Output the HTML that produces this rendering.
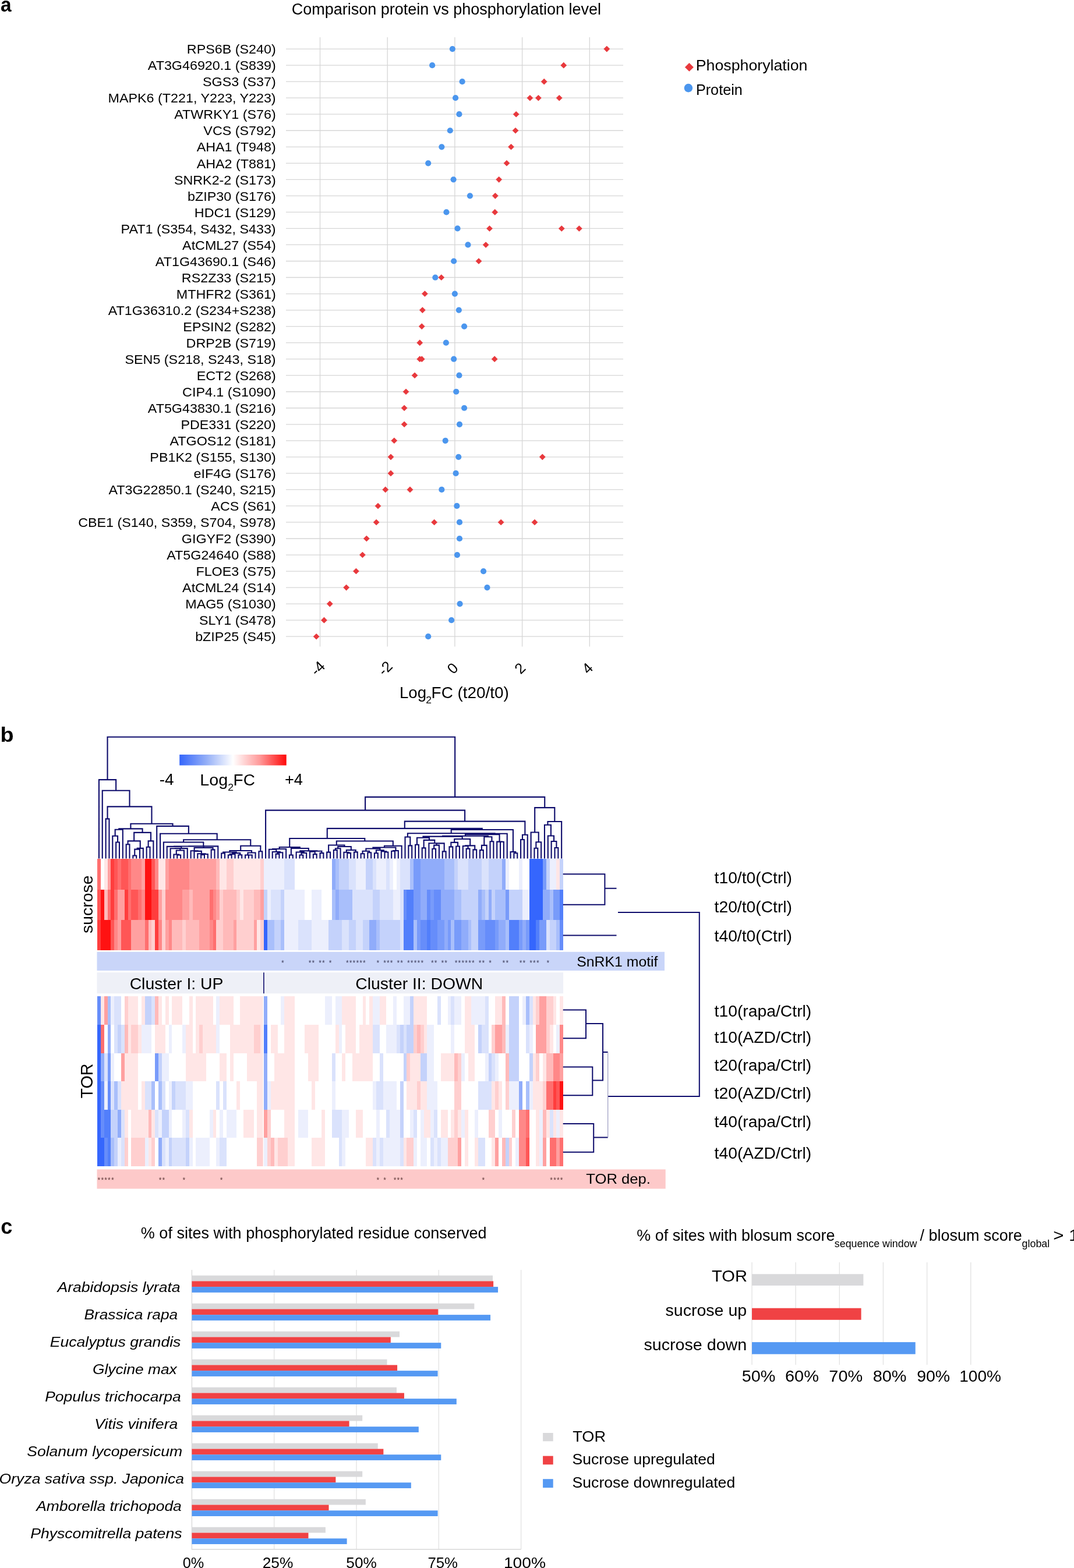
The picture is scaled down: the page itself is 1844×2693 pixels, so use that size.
<!DOCTYPE html>
<html><head><meta charset="utf-8"><title>Figure</title>
<style>html,body{margin:0;padding:0;background:#fff;} svg{display:block;}</style></head>
<body><svg width="1844" height="2693" viewBox="0 0 1844 2693" font-family="'Liberation Sans', Arial, sans-serif" fill="#000">
<rect width="1844" height="2693" fill="#fff"/>
<text transform="translate(0.97 20) scale(0.9275 1)" font-size="36" font-weight="bold">a</text>
<text transform="translate(0.38 1273.7) scale(1.0497 1)" font-size="36" font-weight="bold">b</text>
<text x="1.2" y="2118.6" font-size="36" font-weight="bold">c</text>
<text x="500.7" y="25.3" font-size="27">Comparison protein vs phosphorylation level</text>
<path d="M549.5 64V1110.5 M665.2 64V1110.5 M780.9 64V1110.5 M896.6 64V1110.5 M1012.3 64V1110.5 M491 84.1H1070 M491 112.13H1070 M491 140.16H1070 M491 168.19H1070 M491 196.22H1070 M491 224.25H1070 M491 252.28H1070 M491 280.31H1070 M491 308.34H1070 M491 336.37H1070 M491 364.4H1070 M491 392.43H1070 M491 420.46H1070 M491 448.49H1070 M491 476.52H1070 M491 504.55H1070 M491 532.58H1070 M491 560.61H1070 M491 588.64H1070 M491 616.67H1070 M491 644.7H1070 M491 672.73H1070 M491 700.76H1070 M491 728.79H1070 M491 756.82H1070 M491 784.85H1070 M491 812.88H1070 M491 840.91H1070 M491 868.94H1070 M491 896.97H1070 M491 925H1070 M491 953.03H1070 M491 981.06H1070 M491 1009.09H1070 M491 1037.12H1070 M491 1065.15H1070 M491 1093.18H1070" stroke="#d6d6d6" stroke-width="1.3" fill="none"/>
<text transform="translate(320.82 92.3) scale(1.0600 1)" font-size="22">RPS6B (S240)</text>
<text transform="translate(253.83 120.33) scale(1.0600 1)" font-size="22">AT3G46920.1 (S839)</text>
<text transform="translate(348.06 148.36) scale(1.0600 1)" font-size="22">SGS3 (S37)</text>
<text transform="translate(185.56 176.39) scale(1.0600 1)" font-size="22">MAPK6 (T221, Y223, Y223)</text>
<text transform="translate(299.3 204.42) scale(1.0600 1)" font-size="22">ATWRKY1 (S76)</text>
<text transform="translate(349.33 232.45) scale(1.0600 1)" font-size="22">VCS (S792)</text>
<text transform="translate(337.67 260.48) scale(1.0600 1)" font-size="22">AHA1 (T948)</text>
<text transform="translate(337.67 288.51) scale(1.0600 1)" font-size="22">AHA2 (T881)</text>
<text transform="translate(298.88 316.54) scale(1.0600 1)" font-size="22">SNRK2-2 (S173)</text>
<text transform="translate(322.09 344.57) scale(1.0600 1)" font-size="22">bZIP30 (S176)</text>
<text transform="translate(333.86 372.6) scale(1.0600 1)" font-size="22">HDC1 (S129)</text>
<text transform="translate(207.61 400.63) scale(1.0600 1)" font-size="22">PAT1 (S354, S432, S433)</text>
<text transform="translate(313.08 428.66) scale(1.0600 1)" font-size="22">AtCML27 (S54)</text>
<text transform="translate(266.87 456.69) scale(1.0600 1)" font-size="22">AT1G43690.1 (S46)</text>
<text transform="translate(311.81 484.72) scale(1.0600 1)" font-size="22">RS2Z33 (S215)</text>
<text transform="translate(302.8 512.75) scale(1.0600 1)" font-size="22">MTHFR2 (S361)</text>
<text transform="translate(185.78 540.78) scale(1.0600 1)" font-size="22">AT1G36310.2 (S234+S238)</text>
<text transform="translate(314.35 568.81) scale(1.0600 1)" font-size="22">EPSIN2 (S282)</text>
<text transform="translate(319.55 596.84) scale(1.0600 1)" font-size="22">DRP2B (S719)</text>
<text transform="translate(214.5 624.87) scale(1.0600 1)" font-size="22">SEN5 (S218, S243, S18)</text>
<text transform="translate(337.67 652.9) scale(1.0600 1)" font-size="22">ECT2 (S268)</text>
<text transform="translate(313.08 680.93) scale(1.0600 1)" font-size="22">CIP4.1 (S1090)</text>
<text transform="translate(253.83 708.96) scale(1.0600 1)" font-size="22">AT5G43830.1 (S216)</text>
<text transform="translate(310.43 736.99) scale(1.0600 1)" font-size="22">PDE331 (S220)</text>
<text transform="translate(291.46 765.02) scale(1.0600 1)" font-size="22">ATGOS12 (S181)</text>
<text transform="translate(257.33 793.05) scale(1.0600 1)" font-size="22">PB1K2 (S155, S130)</text>
<text transform="translate(332.48 821.08) scale(1.0600 1)" font-size="22">eIF4G (S176)</text>
<text transform="translate(186.41 849.11) scale(1.0600 1)" font-size="22">AT3G22850.1 (S240, S215)</text>
<text transform="translate(362.37 877.14) scale(1.0600 1)" font-size="22">ACS (S61)</text>
<text transform="translate(134.15 905.17) scale(1.0600 1)" font-size="22">CBE1 (S140, S359, S704, S978)</text>
<text transform="translate(311.81 933.2) scale(1.0600 1)" font-size="22">GIGYF2 (S390)</text>
<text transform="translate(286.26 961.23) scale(1.0600 1)" font-size="22">AT5G24640 (S88)</text>
<text transform="translate(336.4 989.26) scale(1.0600 1)" font-size="22">FLOE3 (S75)</text>
<text transform="translate(313.08 1017.29) scale(1.0600 1)" font-size="22">AtCML24 (S14)</text>
<text transform="translate(318.28 1045.32) scale(1.0600 1)" font-size="22">MAG5 (S1030)</text>
<text transform="translate(342.02 1073.35) scale(1.0600 1)" font-size="22">SLY1 (S478)</text>
<text transform="translate(335.13 1101.38) scale(1.0600 1)" font-size="22">bZIP25 (S45)</text>
<circle cx="776.85" cy="84.1" r="5.1" fill="#4b96ee"/><circle cx="742.14" cy="112.13" r="5.1" fill="#4b96ee"/><circle cx="793.63" cy="140.16" r="5.1" fill="#4b96ee"/><circle cx="782.06" cy="168.19" r="5.1" fill="#4b96ee"/><circle cx="788.42" cy="196.22" r="5.1" fill="#4b96ee"/><circle cx="772.8" cy="224.25" r="5.1" fill="#4b96ee"/><circle cx="758.34" cy="252.28" r="5.1" fill="#4b96ee"/><circle cx="735.2" cy="280.31" r="5.1" fill="#4b96ee"/><circle cx="778.59" cy="308.34" r="5.1" fill="#4b96ee"/><circle cx="806.93" cy="336.37" r="5.1" fill="#4b96ee"/><circle cx="766.44" cy="364.4" r="5.1" fill="#4b96ee"/><circle cx="785.53" cy="392.43" r="5.1" fill="#4b96ee"/><circle cx="803.46" cy="420.46" r="5.1" fill="#4b96ee"/><circle cx="779.16" cy="448.49" r="5.1" fill="#4b96ee"/><circle cx="747.35" cy="476.52" r="5.1" fill="#4b96ee"/><circle cx="780.9" cy="504.55" r="5.1" fill="#4b96ee"/><circle cx="787.84" cy="532.58" r="5.1" fill="#4b96ee"/><circle cx="797.1" cy="560.61" r="5.1" fill="#4b96ee"/><circle cx="765.86" cy="588.64" r="5.1" fill="#4b96ee"/><circle cx="779.16" cy="616.67" r="5.1" fill="#4b96ee"/><circle cx="788.42" cy="644.7" r="5.1" fill="#4b96ee"/><circle cx="783.21" cy="672.73" r="5.1" fill="#4b96ee"/><circle cx="797.1" cy="700.76" r="5.1" fill="#4b96ee"/><circle cx="789" cy="728.79" r="5.1" fill="#4b96ee"/><circle cx="764.7" cy="756.82" r="5.1" fill="#4b96ee"/><circle cx="787.26" cy="784.85" r="5.1" fill="#4b96ee"/><circle cx="782.64" cy="812.88" r="5.1" fill="#4b96ee"/><circle cx="758.34" cy="840.91" r="5.1" fill="#4b96ee"/><circle cx="784.37" cy="868.94" r="5.1" fill="#4b96ee"/><circle cx="789" cy="896.97" r="5.1" fill="#4b96ee"/><circle cx="789" cy="925" r="5.1" fill="#4b96ee"/><circle cx="784.95" cy="953.03" r="5.1" fill="#4b96ee"/><circle cx="830.07" cy="981.06" r="5.1" fill="#4b96ee"/><circle cx="836.44" cy="1009.09" r="5.1" fill="#4b96ee"/><circle cx="789.58" cy="1037.12" r="5.1" fill="#4b96ee"/><circle cx="775.12" cy="1065.15" r="5.1" fill="#4b96ee"/><circle cx="735.2" cy="1093.18" r="5.1" fill="#4b96ee"/><path d="M1041.8 78.8L1047.2 84.1L1041.8 89.4L1036.4 84.1Z" fill="#e8393d"/><path d="M967.76 106.83L973.16 112.13L967.76 117.43L962.36 112.13Z" fill="#e8393d"/><path d="M934.2 134.86L939.6 140.16L934.2 145.46L928.8 140.16Z" fill="#e8393d"/><path d="M909.91 162.89L915.31 168.19L909.91 173.49L904.51 168.19Z" fill="#e8393d"/><path d="M924.37 162.89L929.77 168.19L924.37 173.49L918.97 168.19Z" fill="#e8393d"/><path d="M960.24 162.89L965.63 168.19L960.24 173.49L954.84 168.19Z" fill="#e8393d"/><path d="M886.19 190.92L891.59 196.22L886.19 201.52L880.79 196.22Z" fill="#e8393d"/><path d="M885.03 218.95L890.43 224.25L885.03 229.55L879.63 224.25Z" fill="#e8393d"/><path d="M877.51 246.98L882.91 252.28L877.51 257.58L872.11 252.28Z" fill="#e8393d"/><path d="M869.99 275.01L875.39 280.31L869.99 285.61L864.59 280.31Z" fill="#e8393d"/><path d="M856.68 303.04L862.08 308.34L856.68 313.64L851.28 308.34Z" fill="#e8393d"/><path d="M850.32 331.07L855.72 336.37L850.32 341.67L844.92 336.37Z" fill="#e8393d"/><path d="M849.74 359.1L855.14 364.4L849.74 369.7L844.34 364.4Z" fill="#e8393d"/><path d="M840.49 387.13L845.89 392.43L840.49 397.73L835.09 392.43Z" fill="#e8393d"/><path d="M964.28 387.13L969.68 392.43L964.28 397.73L958.88 392.43Z" fill="#e8393d"/><path d="M994.37 387.13L999.77 392.43L994.37 397.73L988.97 392.43Z" fill="#e8393d"/><path d="M834.12 415.16L839.52 420.46L834.12 425.76L828.72 420.46Z" fill="#e8393d"/><path d="M821.97 443.19L827.37 448.49L821.97 453.79L816.57 448.49Z" fill="#e8393d"/><path d="M757.76 471.22L763.16 476.52L757.76 481.82L752.36 476.52Z" fill="#e8393d"/><path d="M729.41 499.25L734.81 504.55L729.41 509.85L724.01 504.55Z" fill="#e8393d"/><path d="M725.36 527.28L730.76 532.58L725.36 537.88L719.96 532.58Z" fill="#e8393d"/><path d="M724.21 555.31L729.61 560.61L724.21 565.91L718.81 560.61Z" fill="#e8393d"/><path d="M720.74 583.34L726.14 588.64L720.74 593.94L715.34 588.64Z" fill="#e8393d"/><path d="M720.74 611.37L726.14 616.67L720.74 621.97L715.34 616.67Z" fill="#e8393d"/><path d="M724.21 611.37L729.61 616.67L724.21 621.97L718.81 616.67Z" fill="#e8393d"/><path d="M849.16 611.37L854.56 616.67L849.16 621.97L843.76 616.67Z" fill="#e8393d"/><path d="M712.06 639.4L717.46 644.7L712.06 650L706.66 644.7Z" fill="#e8393d"/><path d="M697.02 667.43L702.42 672.73L697.02 678.03L691.62 672.73Z" fill="#e8393d"/><path d="M694.12 695.46L699.52 700.76L694.12 706.06L688.73 700.76Z" fill="#e8393d"/><path d="M694.12 723.49L699.52 728.79L694.12 734.09L688.73 728.79Z" fill="#e8393d"/><path d="M676.77 751.52L682.17 756.82L676.77 762.12L671.37 756.82Z" fill="#e8393d"/><path d="M670.99 779.55L676.38 784.85L670.99 790.15L665.59 784.85Z" fill="#e8393d"/><path d="M931.31 779.55L936.71 784.85L931.31 790.15L925.91 784.85Z" fill="#e8393d"/><path d="M670.99 807.58L676.38 812.88L670.99 818.18L665.59 812.88Z" fill="#e8393d"/><path d="M661.73 835.61L667.13 840.91L661.73 846.21L656.33 840.91Z" fill="#e8393d"/><path d="M703.96 835.61L709.36 840.91L703.96 846.21L698.56 840.91Z" fill="#e8393d"/><path d="M649 863.64L654.4 868.94L649 874.24L643.6 868.94Z" fill="#e8393d"/><path d="M646.11 891.67L651.51 896.97L646.11 902.27L640.71 896.97Z" fill="#e8393d"/><path d="M745.61 891.67L751.01 896.97L745.61 902.27L740.21 896.97Z" fill="#e8393d"/><path d="M860.15 891.67L865.55 896.97L860.15 902.27L854.75 896.97Z" fill="#e8393d"/><path d="M918 891.67L923.4 896.97L918 902.27L912.6 896.97Z" fill="#e8393d"/><path d="M629.33 919.7L634.73 925L629.33 930.3L623.93 925Z" fill="#e8393d"/><path d="M622.39 947.73L627.79 953.03L622.39 958.33L616.99 953.03Z" fill="#e8393d"/><path d="M611.4 975.76L616.8 981.06L611.4 986.36L606 981.06Z" fill="#e8393d"/><path d="M594.62 1003.79L600.02 1009.09L594.62 1014.39L589.22 1009.09Z" fill="#e8393d"/><path d="M566.28 1031.82L571.68 1037.12L566.28 1042.42L560.88 1037.12Z" fill="#e8393d"/><path d="M556.44 1059.85L561.84 1065.15L556.44 1070.45L551.04 1065.15Z" fill="#e8393d"/><path d="M543.14 1087.88L548.54 1093.18L543.14 1098.48L537.74 1093.18Z" fill="#e8393d"/>
<text transform="translate(545.5 1147.5) rotate(-45)" font-size="25.5" text-anchor="middle" dy="9">-4</text>
<text transform="translate(661.2 1147.5) rotate(-45)" font-size="25.5" text-anchor="middle" dy="9">-2</text>
<text transform="translate(776.9 1147.5) rotate(-45)" font-size="25.5" text-anchor="middle" dy="9">0</text>
<text transform="translate(892.6 1147.5) rotate(-45)" font-size="25.5" text-anchor="middle" dy="9">2</text>
<text transform="translate(1008.3 1147.5) rotate(-45)" font-size="25.5" text-anchor="middle" dy="9">4</text>
<text transform="translate(685.93 1198.7) scale(0.9859 1)" font-size="28">Log</text>
<text transform="translate(731.26 1208) scale(1.0526 1)" font-size="16.6">2</text>
<text transform="translate(740.61 1198.7) scale(0.9969 1)" font-size="28">FC (t20/t0)</text>
<path d="M1183.4 108L1190.9 115.4L1183.4 122.8L1175.9 115.4Z" fill="#e8393d"/>
<circle cx="1181.9" cy="151.1" r="7.3" fill="#4b96ee"/>
<text transform="translate(1194.78 120.6) scale(1.0568 1)" font-size="25.3">Phosphorylation</text>
<text transform="translate(1194.91 162.9) scale(0.9961 1)" font-size="25.3">Protein</text><g shape-rendering="crispEdges">
<rect x="167" y="1475.2" width="5.85" height="52.6" fill="#ff6f6f"/><rect x="178.68" y="1475.2" width="5.85" height="52.6" fill="#ffe6e6"/><rect x="184.52" y="1475.2" width="5.85" height="52.6" fill="#ffa0a0"/><rect x="190.36" y="1475.2" width="5.85" height="52.6" fill="#ff3d3d"/><rect x="196.2" y="1475.2" width="5.85" height="52.6" fill="#ff5656"/><rect x="202.04" y="1475.2" width="5.85" height="52.6" fill="#ff6f6f"/><rect x="207.88" y="1475.2" width="11.69" height="52.6" fill="#ff5656"/><rect x="219.56" y="1475.2" width="5.85" height="52.6" fill="#ff6f6f"/><rect x="225.4" y="1475.2" width="17.53" height="52.6" fill="#ff8888"/><rect x="242.92" y="1475.2" width="5.85" height="52.6" fill="#ffa0a0"/><rect x="248.76" y="1475.2" width="11.69" height="52.6" fill="#ff1212"/><rect x="260.44" y="1475.2" width="5.85" height="52.6" fill="#ff5656"/><rect x="266.28" y="1475.2" width="5.85" height="52.6" fill="#ff8888"/><rect x="272.12" y="1475.2" width="11.69" height="52.6" fill="#ffe6e6"/><rect x="283.8" y="1475.2" width="5.85" height="52.6" fill="#ffa0a0"/><rect x="289.64" y="1475.2" width="35.05" height="52.6" fill="#ff8888"/><rect x="324.68" y="1475.2" width="46.73" height="52.6" fill="#ffa0a0"/><rect x="371.4" y="1475.2" width="5.85" height="52.6" fill="#ffbaba"/><rect x="377.24" y="1475.2" width="11.69" height="52.6" fill="#ffe6e6"/><rect x="388.92" y="1475.2" width="11.69" height="52.6" fill="#ffcfcf"/><rect x="400.6" y="1475.2" width="46.73" height="52.6" fill="#ffe6e6"/><rect x="447.32" y="1475.2" width="5.85" height="52.6" fill="#ffcfcf"/><rect x="453.16" y="1475.2" width="35.05" height="52.6" fill="#eceffd"/><rect x="488.2" y="1475.2" width="17.53" height="52.6" fill="#dae2fc"/><rect x="569.96" y="1475.2" width="5.85" height="52.6" fill="#90acfa"/><rect x="575.8" y="1475.2" width="5.85" height="52.6" fill="#a9bffb"/><rect x="581.64" y="1475.2" width="17.53" height="52.6" fill="#c4d2fb"/><rect x="599.16" y="1475.2" width="11.69" height="52.6" fill="#dae2fc"/><rect x="610.84" y="1475.2" width="17.53" height="52.6" fill="#eceffd"/><rect x="628.36" y="1475.2" width="11.69" height="52.6" fill="#c4d2fb"/><rect x="640.04" y="1475.2" width="5.85" height="52.6" fill="#dae2fc"/><rect x="645.88" y="1475.2" width="17.53" height="52.6" fill="#eceffd"/><rect x="663.4" y="1475.2" width="5.85" height="52.6" fill="#dae2fc"/><rect x="669.24" y="1475.2" width="5.85" height="52.6" fill="#eceffd"/><rect x="680.92" y="1475.2" width="5.85" height="52.6" fill="#eceffd"/><rect x="686.76" y="1475.2" width="17.53" height="52.6" fill="#dae2fc"/><rect x="704.28" y="1475.2" width="5.85" height="52.6" fill="#a9bffb"/><rect x="710.12" y="1475.2" width="11.69" height="52.6" fill="#789bfa"/><rect x="721.8" y="1475.2" width="40.89" height="52.6" fill="#90acfa"/><rect x="762.68" y="1475.2" width="17.53" height="52.6" fill="#a9bffb"/><rect x="780.2" y="1475.2" width="5.85" height="52.6" fill="#c4d2fb"/><rect x="786.04" y="1475.2" width="17.53" height="52.6" fill="#dae2fc"/><rect x="803.56" y="1475.2" width="23.37" height="52.6" fill="#c4d2fb"/><rect x="826.92" y="1475.2" width="11.69" height="52.6" fill="#dae2fc"/><rect x="838.6" y="1475.2" width="23.37" height="52.6" fill="#c4d2fb"/><rect x="861.96" y="1475.2" width="5.85" height="52.6" fill="#90acfa"/><rect x="867.8" y="1475.2" width="5.85" height="52.6" fill="#eceffd"/><rect x="891.16" y="1475.2" width="5.85" height="52.6" fill="#eceffd"/><rect x="908.68" y="1475.2" width="23.37" height="52.6" fill="#3566fd"/><rect x="932.04" y="1475.2" width="5.85" height="52.6" fill="#789bfa"/><rect x="937.88" y="1475.2" width="5.85" height="52.6" fill="#c4d2fb"/><rect x="943.72" y="1475.2" width="11.69" height="52.6" fill="#eceffd"/><rect x="955.4" y="1475.2" width="5.85" height="52.6" fill="#ffe6e6"/><rect x="961.24" y="1475.2" width="5.85" height="52.6" fill="#c4d2fb"/><rect x="167" y="1527.8" width="5.85" height="52.5" fill="#ff5656"/><rect x="172.84" y="1527.8" width="5.85" height="52.5" fill="#ff1212"/><rect x="178.68" y="1527.8" width="5.85" height="52.5" fill="#ffbaba"/><rect x="184.52" y="1527.8" width="5.85" height="52.5" fill="#ff6f6f"/><rect x="190.36" y="1527.8" width="5.85" height="52.5" fill="#ff3d3d"/><rect x="196.2" y="1527.8" width="5.85" height="52.5" fill="#ff6f6f"/><rect x="202.04" y="1527.8" width="11.69" height="52.5" fill="#ffa0a0"/><rect x="213.72" y="1527.8" width="5.85" height="52.5" fill="#ff3d3d"/><rect x="219.56" y="1527.8" width="5.85" height="52.5" fill="#ff6f6f"/><rect x="225.4" y="1527.8" width="11.69" height="52.5" fill="#ff5656"/><rect x="237.08" y="1527.8" width="5.85" height="52.5" fill="#ff6f6f"/><rect x="242.92" y="1527.8" width="5.85" height="52.5" fill="#ff8888"/><rect x="248.76" y="1527.8" width="11.69" height="52.5" fill="#ff1212"/><rect x="260.44" y="1527.8" width="11.69" height="52.5" fill="#ff3d3d"/><rect x="272.12" y="1527.8" width="5.85" height="52.5" fill="#ffa0a0"/><rect x="277.96" y="1527.8" width="5.85" height="52.5" fill="#ffcfcf"/><rect x="283.8" y="1527.8" width="29.21" height="52.5" fill="#ff8888"/><rect x="313" y="1527.8" width="11.69" height="52.5" fill="#ffa0a0"/><rect x="324.68" y="1527.8" width="5.85" height="52.5" fill="#ffbaba"/><rect x="330.52" y="1527.8" width="29.21" height="52.5" fill="#ffa0a0"/><rect x="359.72" y="1527.8" width="5.85" height="52.5" fill="#ff6f6f"/><rect x="365.56" y="1527.8" width="5.85" height="52.5" fill="#ff8888"/><rect x="371.4" y="1527.8" width="5.85" height="52.5" fill="#ffa0a0"/><rect x="377.24" y="1527.8" width="5.85" height="52.5" fill="#ffcfcf"/><rect x="383.08" y="1527.8" width="23.37" height="52.5" fill="#ffbaba"/><rect x="406.44" y="1527.8" width="5.85" height="52.5" fill="#ffcfcf"/><rect x="412.28" y="1527.8" width="5.85" height="52.5" fill="#ffe6e6"/><rect x="418.12" y="1527.8" width="17.53" height="52.5" fill="#ffcfcf"/><rect x="435.64" y="1527.8" width="11.69" height="52.5" fill="#ffbaba"/><rect x="447.32" y="1527.8" width="5.85" height="52.5" fill="#ffa0a0"/><rect x="453.16" y="1527.8" width="5.85" height="52.5" fill="#c4d2fb"/><rect x="459" y="1527.8" width="5.85" height="52.5" fill="#eceffd"/><rect x="464.84" y="1527.8" width="17.53" height="52.5" fill="#dae2fc"/><rect x="482.36" y="1527.8" width="5.85" height="52.5" fill="#c4d2fb"/><rect x="488.2" y="1527.8" width="35.05" height="52.5" fill="#eceffd"/><rect x="534.92" y="1527.8" width="17.53" height="52.5" fill="#eceffd"/><rect x="569.96" y="1527.8" width="5.85" height="52.5" fill="#a9bffb"/><rect x="575.8" y="1527.8" width="5.85" height="52.5" fill="#90acfa"/><rect x="581.64" y="1527.8" width="23.37" height="52.5" fill="#a9bffb"/><rect x="605" y="1527.8" width="35.05" height="52.5" fill="#dae2fc"/><rect x="640.04" y="1527.8" width="11.69" height="52.5" fill="#c4d2fb"/><rect x="651.72" y="1527.8" width="23.37" height="52.5" fill="#dae2fc"/><rect x="675.08" y="1527.8" width="11.69" height="52.5" fill="#eceffd"/><rect x="686.76" y="1527.8" width="5.85" height="52.5" fill="#dae2fc"/><rect x="692.6" y="1527.8" width="5.85" height="52.5" fill="#668dfa"/><rect x="698.44" y="1527.8" width="11.69" height="52.5" fill="#527ffb"/><rect x="710.12" y="1527.8" width="11.69" height="52.5" fill="#789bfa"/><rect x="721.8" y="1527.8" width="11.69" height="52.5" fill="#90acfa"/><rect x="733.48" y="1527.8" width="5.85" height="52.5" fill="#668dfa"/><rect x="739.32" y="1527.8" width="5.85" height="52.5" fill="#789bfa"/><rect x="745.16" y="1527.8" width="11.69" height="52.5" fill="#668dfa"/><rect x="756.84" y="1527.8" width="23.37" height="52.5" fill="#90acfa"/><rect x="780.2" y="1527.8" width="11.69" height="52.5" fill="#a9bffb"/><rect x="791.88" y="1527.8" width="29.21" height="52.5" fill="#c4d2fb"/><rect x="821.08" y="1527.8" width="5.85" height="52.5" fill="#90acfa"/><rect x="826.92" y="1527.8" width="5.85" height="52.5" fill="#a9bffb"/><rect x="832.76" y="1527.8" width="5.85" height="52.5" fill="#c4d2fb"/><rect x="838.6" y="1527.8" width="5.85" height="52.5" fill="#90acfa"/><rect x="844.44" y="1527.8" width="5.85" height="52.5" fill="#c4d2fb"/><rect x="850.28" y="1527.8" width="17.53" height="52.5" fill="#a9bffb"/><rect x="867.8" y="1527.8" width="5.85" height="52.5" fill="#789bfa"/><rect x="873.64" y="1527.8" width="23.37" height="52.5" fill="#c4d2fb"/><rect x="897" y="1527.8" width="11.69" height="52.5" fill="#eceffd"/><rect x="908.68" y="1527.8" width="23.37" height="52.5" fill="#3566fd"/><rect x="932.04" y="1527.8" width="11.69" height="52.5" fill="#90acfa"/><rect x="943.72" y="1527.8" width="5.85" height="52.5" fill="#a9bffb"/><rect x="949.56" y="1527.8" width="11.69" height="52.5" fill="#789bfa"/><rect x="961.24" y="1527.8" width="5.85" height="52.5" fill="#527ffb"/><rect x="167" y="1580.3" width="5.85" height="51.7" fill="#ff3d3d"/><rect x="172.84" y="1580.3" width="17.53" height="51.7" fill="#ff1212"/><rect x="190.36" y="1580.3" width="5.85" height="51.7" fill="#ff5656"/><rect x="196.2" y="1580.3" width="5.85" height="51.7" fill="#ff8888"/><rect x="202.04" y="1580.3" width="5.85" height="51.7" fill="#ffa0a0"/><rect x="207.88" y="1580.3" width="17.53" height="51.7" fill="#ff5656"/><rect x="225.4" y="1580.3" width="23.37" height="51.7" fill="#ffa0a0"/><rect x="248.76" y="1580.3" width="5.85" height="51.7" fill="#ff6f6f"/><rect x="254.6" y="1580.3" width="5.85" height="51.7" fill="#ffbaba"/><rect x="260.44" y="1580.3" width="5.85" height="51.7" fill="#ffcfcf"/><rect x="266.28" y="1580.3" width="5.85" height="51.7" fill="#ff3d3d"/><rect x="272.12" y="1580.3" width="5.85" height="51.7" fill="#ff8888"/><rect x="277.96" y="1580.3" width="5.85" height="51.7" fill="#ffcfcf"/><rect x="283.8" y="1580.3" width="5.85" height="51.7" fill="#ffa0a0"/><rect x="289.64" y="1580.3" width="5.85" height="51.7" fill="#ff8888"/><rect x="295.48" y="1580.3" width="17.53" height="51.7" fill="#ffbaba"/><rect x="313" y="1580.3" width="5.85" height="51.7" fill="#ffcfcf"/><rect x="318.84" y="1580.3" width="23.37" height="51.7" fill="#ffbaba"/><rect x="342.2" y="1580.3" width="17.53" height="51.7" fill="#ffa0a0"/><rect x="359.72" y="1580.3" width="5.85" height="51.7" fill="#ff8888"/><rect x="365.56" y="1580.3" width="5.85" height="51.7" fill="#ff6f6f"/><rect x="371.4" y="1580.3" width="11.69" height="51.7" fill="#ffcfcf"/><rect x="383.08" y="1580.3" width="17.53" height="51.7" fill="#ffbaba"/><rect x="400.6" y="1580.3" width="5.85" height="51.7" fill="#ffa0a0"/><rect x="406.44" y="1580.3" width="29.21" height="51.7" fill="#ffcfcf"/><rect x="435.64" y="1580.3" width="5.85" height="51.7" fill="#ffa0a0"/><rect x="441.48" y="1580.3" width="5.85" height="51.7" fill="#ffe6e6"/><rect x="447.32" y="1580.3" width="5.85" height="51.7" fill="#ffcfcf"/><rect x="453.16" y="1580.3" width="5.85" height="51.7" fill="#3566fd"/><rect x="459" y="1580.3" width="11.69" height="51.7" fill="#a9bffb"/><rect x="470.68" y="1580.3" width="11.69" height="51.7" fill="#c4d2fb"/><rect x="482.36" y="1580.3" width="5.85" height="51.7" fill="#a9bffb"/><rect x="488.2" y="1580.3" width="23.37" height="51.7" fill="#eceffd"/><rect x="511.56" y="1580.3" width="23.37" height="51.7" fill="#dae2fc"/><rect x="534.92" y="1580.3" width="29.21" height="51.7" fill="#eceffd"/><rect x="564.12" y="1580.3" width="23.37" height="51.7" fill="#c4d2fb"/><rect x="587.48" y="1580.3" width="11.69" height="51.7" fill="#dae2fc"/><rect x="599.16" y="1580.3" width="11.69" height="51.7" fill="#c4d2fb"/><rect x="610.84" y="1580.3" width="11.69" height="51.7" fill="#dae2fc"/><rect x="622.52" y="1580.3" width="11.69" height="51.7" fill="#c4d2fb"/><rect x="634.2" y="1580.3" width="11.69" height="51.7" fill="#90acfa"/><rect x="645.88" y="1580.3" width="5.85" height="51.7" fill="#a9bffb"/><rect x="651.72" y="1580.3" width="35.05" height="51.7" fill="#c4d2fb"/><rect x="686.76" y="1580.3" width="5.85" height="51.7" fill="#dae2fc"/><rect x="692.6" y="1580.3" width="17.53" height="51.7" fill="#527ffb"/><rect x="710.12" y="1580.3" width="5.85" height="51.7" fill="#a9bffb"/><rect x="715.96" y="1580.3" width="5.85" height="51.7" fill="#789bfa"/><rect x="721.8" y="1580.3" width="11.69" height="51.7" fill="#668dfa"/><rect x="733.48" y="1580.3" width="5.85" height="51.7" fill="#527ffb"/><rect x="739.32" y="1580.3" width="11.69" height="51.7" fill="#668dfa"/><rect x="751" y="1580.3" width="11.69" height="51.7" fill="#789bfa"/><rect x="762.68" y="1580.3" width="5.85" height="51.7" fill="#90acfa"/><rect x="768.52" y="1580.3" width="5.85" height="51.7" fill="#789bfa"/><rect x="774.36" y="1580.3" width="5.85" height="51.7" fill="#a9bffb"/><rect x="780.2" y="1580.3" width="11.69" height="51.7" fill="#789bfa"/><rect x="791.88" y="1580.3" width="11.69" height="51.7" fill="#90acfa"/><rect x="803.56" y="1580.3" width="5.85" height="51.7" fill="#a9bffb"/><rect x="809.4" y="1580.3" width="11.69" height="51.7" fill="#c4d2fb"/><rect x="821.08" y="1580.3" width="11.69" height="51.7" fill="#789bfa"/><rect x="832.76" y="1580.3" width="17.53" height="51.7" fill="#668dfa"/><rect x="850.28" y="1580.3" width="5.85" height="51.7" fill="#789bfa"/><rect x="856.12" y="1580.3" width="11.69" height="51.7" fill="#90acfa"/><rect x="867.8" y="1580.3" width="5.85" height="51.7" fill="#a9bffb"/><rect x="873.64" y="1580.3" width="17.53" height="51.7" fill="#527ffb"/><rect x="891.16" y="1580.3" width="5.85" height="51.7" fill="#789bfa"/><rect x="897" y="1580.3" width="5.85" height="51.7" fill="#90acfa"/><rect x="902.84" y="1580.3" width="5.85" height="51.7" fill="#789bfa"/><rect x="908.68" y="1580.3" width="11.69" height="51.7" fill="#3566fd"/><rect x="920.36" y="1580.3" width="5.85" height="51.7" fill="#527ffb"/><rect x="926.2" y="1580.3" width="11.69" height="51.7" fill="#789bfa"/><rect x="937.88" y="1580.3" width="5.85" height="51.7" fill="#dae2fc"/><rect x="943.72" y="1580.3" width="11.69" height="51.7" fill="#c4d2fb"/><rect x="955.4" y="1580.3" width="5.85" height="51.7" fill="#a9bffb"/><rect x="961.24" y="1580.3" width="5.85" height="51.7" fill="#668dfa"/>
<rect x="167" y="1711.3" width="5.85" height="48.62" fill="#668dfa"/><rect x="172.84" y="1711.3" width="5.85" height="48.62" fill="#ffe6e6"/><rect x="178.68" y="1711.3" width="5.85" height="48.62" fill="#ffa0a0"/><rect x="184.52" y="1711.3" width="5.85" height="48.62" fill="#a9bffb"/><rect x="190.36" y="1711.3" width="5.85" height="48.62" fill="#eceffd"/><rect x="196.2" y="1711.3" width="11.69" height="48.62" fill="#dae2fc"/><rect x="213.72" y="1711.3" width="5.85" height="48.62" fill="#ffcfcf"/><rect x="219.56" y="1711.3" width="17.53" height="48.62" fill="#ffe6e6"/><rect x="242.92" y="1711.3" width="5.85" height="48.62" fill="#ffe6e6"/><rect x="248.76" y="1711.3" width="11.69" height="48.62" fill="#c4d2fb"/><rect x="260.44" y="1711.3" width="5.85" height="48.62" fill="#dae2fc"/><rect x="266.28" y="1711.3" width="5.85" height="48.62" fill="#ffbaba"/><rect x="272.12" y="1711.3" width="5.85" height="48.62" fill="#ffe6e6"/><rect x="283.8" y="1711.3" width="5.85" height="48.62" fill="#ffe6e6"/><rect x="295.48" y="1711.3" width="17.53" height="48.62" fill="#ffe6e6"/><rect x="324.68" y="1711.3" width="5.85" height="48.62" fill="#ffe6e6"/><rect x="336.36" y="1711.3" width="29.21" height="48.62" fill="#ffe6e6"/><rect x="371.4" y="1711.3" width="5.85" height="48.62" fill="#eceffd"/><rect x="377.24" y="1711.3" width="23.37" height="48.62" fill="#ffe6e6"/><rect x="412.28" y="1711.3" width="40.89" height="48.62" fill="#ffe6e6"/><rect x="453.16" y="1711.3" width="5.85" height="48.62" fill="#90acfa"/><rect x="482.36" y="1711.3" width="5.85" height="48.62" fill="#eceffd"/><rect x="488.2" y="1711.3" width="17.53" height="48.62" fill="#ffe6e6"/><rect x="558.28" y="1711.3" width="11.69" height="48.62" fill="#eceffd"/><rect x="575.8" y="1711.3" width="11.69" height="48.62" fill="#eceffd"/><rect x="587.48" y="1711.3" width="23.37" height="48.62" fill="#ffe6e6"/><rect x="622.52" y="1711.3" width="5.85" height="48.62" fill="#ffe6e6"/><rect x="634.2" y="1711.3" width="5.85" height="48.62" fill="#ffe6e6"/><rect x="640.04" y="1711.3" width="11.69" height="48.62" fill="#eceffd"/><rect x="651.72" y="1711.3" width="11.69" height="48.62" fill="#ffe6e6"/><rect x="675.08" y="1711.3" width="5.85" height="48.62" fill="#eceffd"/><rect x="692.6" y="1711.3" width="11.69" height="48.62" fill="#eceffd"/><rect x="704.28" y="1711.3" width="5.85" height="48.62" fill="#c4d2fb"/><rect x="710.12" y="1711.3" width="23.37" height="48.62" fill="#ffe6e6"/><rect x="751" y="1711.3" width="5.85" height="48.62" fill="#dae2fc"/><rect x="768.52" y="1711.3" width="5.85" height="48.62" fill="#eceffd"/><rect x="774.36" y="1711.3" width="5.85" height="48.62" fill="#dae2fc"/><rect x="780.2" y="1711.3" width="11.69" height="48.62" fill="#eceffd"/><rect x="797.72" y="1711.3" width="11.69" height="48.62" fill="#ffe6e6"/><rect x="809.4" y="1711.3" width="23.37" height="48.62" fill="#eceffd"/><rect x="832.76" y="1711.3" width="5.85" height="48.62" fill="#dae2fc"/><rect x="850.28" y="1711.3" width="11.69" height="48.62" fill="#ffe6e6"/><rect x="861.96" y="1711.3" width="5.85" height="48.62" fill="#ffbaba"/><rect x="873.64" y="1711.3" width="17.53" height="48.62" fill="#c4d2fb"/><rect x="897" y="1711.3" width="5.85" height="48.62" fill="#eceffd"/><rect x="902.84" y="1711.3" width="5.85" height="48.62" fill="#a9bffb"/><rect x="908.68" y="1711.3" width="5.85" height="48.62" fill="#dae2fc"/><rect x="914.52" y="1711.3" width="5.85" height="48.62" fill="#ffe6e6"/><rect x="920.36" y="1711.3" width="5.85" height="48.62" fill="#ffcfcf"/><rect x="926.2" y="1711.3" width="11.69" height="48.62" fill="#ffa0a0"/><rect x="937.88" y="1711.3" width="11.69" height="48.62" fill="#ffcfcf"/><rect x="949.56" y="1711.3" width="5.85" height="48.62" fill="#ffe6e6"/><rect x="961.24" y="1711.3" width="5.85" height="48.62" fill="#ffe6e6"/><rect x="167" y="1759.92" width="5.85" height="48.62" fill="#3566fd"/><rect x="172.84" y="1759.92" width="5.85" height="48.62" fill="#ff6f6f"/><rect x="184.52" y="1759.92" width="5.85" height="48.62" fill="#90acfa"/><rect x="196.2" y="1759.92" width="5.85" height="48.62" fill="#dae2fc"/><rect x="202.04" y="1759.92" width="5.85" height="48.62" fill="#c4d2fb"/><rect x="207.88" y="1759.92" width="5.85" height="48.62" fill="#dae2fc"/><rect x="213.72" y="1759.92" width="5.85" height="48.62" fill="#ffbaba"/><rect x="219.56" y="1759.92" width="5.85" height="48.62" fill="#ffe6e6"/><rect x="225.4" y="1759.92" width="11.69" height="48.62" fill="#ffcfcf"/><rect x="237.08" y="1759.92" width="5.85" height="48.62" fill="#ffe6e6"/><rect x="242.92" y="1759.92" width="17.53" height="48.62" fill="#eceffd"/><rect x="266.28" y="1759.92" width="17.53" height="48.62" fill="#ffe6e6"/><rect x="289.64" y="1759.92" width="5.85" height="48.62" fill="#eceffd"/><rect x="313" y="1759.92" width="5.85" height="48.62" fill="#eceffd"/><rect x="318.84" y="1759.92" width="11.69" height="48.62" fill="#ffe6e6"/><rect x="336.36" y="1759.92" width="5.85" height="48.62" fill="#ffe6e6"/><rect x="342.2" y="1759.92" width="5.85" height="48.62" fill="#ffcfcf"/><rect x="348.04" y="1759.92" width="23.37" height="48.62" fill="#ffe6e6"/><rect x="371.4" y="1759.92" width="5.85" height="48.62" fill="#eceffd"/><rect x="394.76" y="1759.92" width="40.89" height="48.62" fill="#ffe6e6"/><rect x="435.64" y="1759.92" width="11.69" height="48.62" fill="#ffcfcf"/><rect x="447.32" y="1759.92" width="5.85" height="48.62" fill="#ffe6e6"/><rect x="453.16" y="1759.92" width="5.85" height="48.62" fill="#527ffb"/><rect x="464.84" y="1759.92" width="11.69" height="48.62" fill="#ffe6e6"/><rect x="488.2" y="1759.92" width="17.53" height="48.62" fill="#ffe6e6"/><rect x="523.24" y="1759.92" width="23.37" height="48.62" fill="#ffe6e6"/><rect x="575.8" y="1759.92" width="5.85" height="48.62" fill="#ffe6e6"/><rect x="581.64" y="1759.92" width="5.85" height="48.62" fill="#eceffd"/><rect x="593.32" y="1759.92" width="17.53" height="48.62" fill="#ffe6e6"/><rect x="616.68" y="1759.92" width="23.37" height="48.62" fill="#ffe6e6"/><rect x="640.04" y="1759.92" width="11.69" height="48.62" fill="#dae2fc"/><rect x="663.4" y="1759.92" width="17.53" height="48.62" fill="#eceffd"/><rect x="680.92" y="1759.92" width="5.85" height="48.62" fill="#dae2fc"/><rect x="686.76" y="1759.92" width="5.85" height="48.62" fill="#c4d2fb"/><rect x="692.6" y="1759.92" width="5.85" height="48.62" fill="#dae2fc"/><rect x="698.44" y="1759.92" width="11.69" height="48.62" fill="#c4d2fb"/><rect x="710.12" y="1759.92" width="5.85" height="48.62" fill="#ffcfcf"/><rect x="715.96" y="1759.92" width="5.85" height="48.62" fill="#ffbaba"/><rect x="721.8" y="1759.92" width="5.85" height="48.62" fill="#ffcfcf"/><rect x="727.64" y="1759.92" width="5.85" height="48.62" fill="#ffe6e6"/><rect x="733.48" y="1759.92" width="11.69" height="48.62" fill="#eceffd"/><rect x="774.36" y="1759.92" width="5.85" height="48.62" fill="#eceffd"/><rect x="797.72" y="1759.92" width="17.53" height="48.62" fill="#ffe6e6"/><rect x="821.08" y="1759.92" width="5.85" height="48.62" fill="#c4d2fb"/><rect x="826.92" y="1759.92" width="11.69" height="48.62" fill="#dae2fc"/><rect x="844.44" y="1759.92" width="5.85" height="48.62" fill="#ffcfcf"/><rect x="850.28" y="1759.92" width="11.69" height="48.62" fill="#ffa0a0"/><rect x="861.96" y="1759.92" width="5.85" height="48.62" fill="#ffbaba"/><rect x="867.8" y="1759.92" width="5.85" height="48.62" fill="#eceffd"/><rect x="873.64" y="1759.92" width="17.53" height="48.62" fill="#c4d2fb"/><rect x="902.84" y="1759.92" width="5.85" height="48.62" fill="#dae2fc"/><rect x="908.68" y="1759.92" width="5.85" height="48.62" fill="#eceffd"/><rect x="920.36" y="1759.92" width="17.53" height="48.62" fill="#ffa0a0"/><rect x="937.88" y="1759.92" width="5.85" height="48.62" fill="#ffcfcf"/><rect x="943.72" y="1759.92" width="5.85" height="48.62" fill="#ffe6e6"/><rect x="955.4" y="1759.92" width="5.85" height="48.62" fill="#eceffd"/><rect x="961.24" y="1759.92" width="5.85" height="48.62" fill="#ff8888"/><rect x="167" y="1808.54" width="5.85" height="48.62" fill="#3566fd"/><rect x="172.84" y="1808.54" width="5.85" height="48.62" fill="#90acfa"/><rect x="178.68" y="1808.54" width="5.85" height="48.62" fill="#dae2fc"/><rect x="184.52" y="1808.54" width="5.85" height="48.62" fill="#789bfa"/><rect x="190.36" y="1808.54" width="5.85" height="48.62" fill="#eceffd"/><rect x="207.88" y="1808.54" width="5.85" height="48.62" fill="#ffa0a0"/><rect x="213.72" y="1808.54" width="23.37" height="48.62" fill="#ffe6e6"/><rect x="266.28" y="1808.54" width="5.85" height="48.62" fill="#789bfa"/><rect x="272.12" y="1808.54" width="5.85" height="48.62" fill="#c4d2fb"/><rect x="277.96" y="1808.54" width="11.69" height="48.62" fill="#eceffd"/><rect x="318.84" y="1808.54" width="35.05" height="48.62" fill="#ffe6e6"/><rect x="377.24" y="1808.54" width="11.69" height="48.62" fill="#ffe6e6"/><rect x="394.76" y="1808.54" width="5.85" height="48.62" fill="#ffe6e6"/><rect x="423.96" y="1808.54" width="29.21" height="48.62" fill="#ffe6e6"/><rect x="453.16" y="1808.54" width="5.85" height="48.62" fill="#90acfa"/><rect x="470.68" y="1808.54" width="35.05" height="48.62" fill="#ffe6e6"/><rect x="529.08" y="1808.54" width="17.53" height="48.62" fill="#ffe6e6"/><rect x="569.96" y="1808.54" width="5.85" height="48.62" fill="#dae2fc"/><rect x="587.48" y="1808.54" width="5.85" height="48.62" fill="#ffe6e6"/><rect x="605" y="1808.54" width="35.05" height="48.62" fill="#ffe6e6"/><rect x="651.72" y="1808.54" width="5.85" height="48.62" fill="#dae2fc"/><rect x="692.6" y="1808.54" width="5.85" height="48.62" fill="#c4d2fb"/><rect x="698.44" y="1808.54" width="5.85" height="48.62" fill="#ffcfcf"/><rect x="704.28" y="1808.54" width="17.53" height="48.62" fill="#ffe6e6"/><rect x="721.8" y="1808.54" width="11.69" height="48.62" fill="#c4d2fb"/><rect x="733.48" y="1808.54" width="11.69" height="48.62" fill="#eceffd"/><rect x="756.84" y="1808.54" width="23.37" height="48.62" fill="#ffe6e6"/><rect x="780.2" y="1808.54" width="5.85" height="48.62" fill="#ffbaba"/><rect x="786.04" y="1808.54" width="5.85" height="48.62" fill="#ffcfcf"/><rect x="791.88" y="1808.54" width="5.85" height="48.62" fill="#eceffd"/><rect x="803.56" y="1808.54" width="11.69" height="48.62" fill="#ffe6e6"/><rect x="832.76" y="1808.54" width="5.85" height="48.62" fill="#eceffd"/><rect x="838.6" y="1808.54" width="5.85" height="48.62" fill="#c4d2fb"/><rect x="844.44" y="1808.54" width="5.85" height="48.62" fill="#dae2fc"/><rect x="850.28" y="1808.54" width="5.85" height="48.62" fill="#eceffd"/><rect x="867.8" y="1808.54" width="5.85" height="48.62" fill="#ffbaba"/><rect x="873.64" y="1808.54" width="17.53" height="48.62" fill="#c4d2fb"/><rect x="908.68" y="1808.54" width="5.85" height="48.62" fill="#c4d2fb"/><rect x="914.52" y="1808.54" width="5.85" height="48.62" fill="#ffe6e6"/><rect x="920.36" y="1808.54" width="5.85" height="48.62" fill="#ffcfcf"/><rect x="932.04" y="1808.54" width="5.85" height="48.62" fill="#ffe6e6"/><rect x="937.88" y="1808.54" width="11.69" height="48.62" fill="#ffbaba"/><rect x="949.56" y="1808.54" width="11.69" height="48.62" fill="#ff8888"/><rect x="961.24" y="1808.54" width="5.85" height="48.62" fill="#ffa0a0"/><rect x="167" y="1857.16" width="5.85" height="48.62" fill="#3566fd"/><rect x="172.84" y="1857.16" width="5.85" height="48.62" fill="#668dfa"/><rect x="178.68" y="1857.16" width="5.85" height="48.62" fill="#eceffd"/><rect x="184.52" y="1857.16" width="5.85" height="48.62" fill="#668dfa"/><rect x="190.36" y="1857.16" width="5.85" height="48.62" fill="#dae2fc"/><rect x="196.2" y="1857.16" width="5.85" height="48.62" fill="#a9bffb"/><rect x="202.04" y="1857.16" width="5.85" height="48.62" fill="#dae2fc"/><rect x="207.88" y="1857.16" width="29.21" height="48.62" fill="#ffe6e6"/><rect x="242.92" y="1857.16" width="5.85" height="48.62" fill="#ffe6e6"/><rect x="248.76" y="1857.16" width="11.69" height="48.62" fill="#dae2fc"/><rect x="260.44" y="1857.16" width="5.85" height="48.62" fill="#a9bffb"/><rect x="272.12" y="1857.16" width="5.85" height="48.62" fill="#a9bffb"/><rect x="277.96" y="1857.16" width="5.85" height="48.62" fill="#dae2fc"/><rect x="289.64" y="1857.16" width="5.85" height="48.62" fill="#eceffd"/><rect x="295.48" y="1857.16" width="5.85" height="48.62" fill="#c4d2fb"/><rect x="301.32" y="1857.16" width="17.53" height="48.62" fill="#dae2fc"/><rect x="318.84" y="1857.16" width="11.69" height="48.62" fill="#eceffd"/><rect x="371.4" y="1857.16" width="5.85" height="48.62" fill="#dae2fc"/><rect x="383.08" y="1857.16" width="5.85" height="48.62" fill="#dae2fc"/><rect x="406.44" y="1857.16" width="5.85" height="48.62" fill="#ffe6e6"/><rect x="441.48" y="1857.16" width="11.69" height="48.62" fill="#ffe6e6"/><rect x="453.16" y="1857.16" width="5.85" height="48.62" fill="#90acfa"/><rect x="459" y="1857.16" width="5.85" height="48.62" fill="#eceffd"/><rect x="464.84" y="1857.16" width="40.89" height="48.62" fill="#ffe6e6"/><rect x="534.92" y="1857.16" width="5.85" height="48.62" fill="#ffe6e6"/><rect x="569.96" y="1857.16" width="5.85" height="48.62" fill="#eceffd"/><rect x="640.04" y="1857.16" width="5.85" height="48.62" fill="#eceffd"/><rect x="645.88" y="1857.16" width="11.69" height="48.62" fill="#dae2fc"/><rect x="657.56" y="1857.16" width="23.37" height="48.62" fill="#eceffd"/><rect x="686.76" y="1857.16" width="5.85" height="48.62" fill="#c4d2fb"/><rect x="698.44" y="1857.16" width="17.53" height="48.62" fill="#ffe6e6"/><rect x="715.96" y="1857.16" width="5.85" height="48.62" fill="#ffcfcf"/><rect x="721.8" y="1857.16" width="11.69" height="48.62" fill="#ffe6e6"/><rect x="733.48" y="1857.16" width="17.53" height="48.62" fill="#eceffd"/><rect x="780.2" y="1857.16" width="11.69" height="48.62" fill="#ffcfcf"/><rect x="821.08" y="1857.16" width="23.37" height="48.62" fill="#dae2fc"/><rect x="844.44" y="1857.16" width="5.85" height="48.62" fill="#ffe6e6"/><rect x="850.28" y="1857.16" width="5.85" height="48.62" fill="#ffcfcf"/><rect x="856.12" y="1857.16" width="5.85" height="48.62" fill="#ffe6e6"/><rect x="867.8" y="1857.16" width="5.85" height="48.62" fill="#ffcfcf"/><rect x="873.64" y="1857.16" width="17.53" height="48.62" fill="#eceffd"/><rect x="891.16" y="1857.16" width="5.85" height="48.62" fill="#90acfa"/><rect x="902.84" y="1857.16" width="5.85" height="48.62" fill="#a9bffb"/><rect x="908.68" y="1857.16" width="5.85" height="48.62" fill="#eceffd"/><rect x="914.52" y="1857.16" width="17.53" height="48.62" fill="#ffe6e6"/><rect x="932.04" y="1857.16" width="5.85" height="48.62" fill="#ffcfcf"/><rect x="937.88" y="1857.16" width="11.69" height="48.62" fill="#ff6f6f"/><rect x="949.56" y="1857.16" width="5.85" height="48.62" fill="#ff3d3d"/><rect x="955.4" y="1857.16" width="5.85" height="48.62" fill="#ff5656"/><rect x="961.24" y="1857.16" width="5.85" height="48.62" fill="#ff1212"/><rect x="167" y="1905.78" width="5.85" height="48.62" fill="#3566fd"/><rect x="172.84" y="1905.78" width="5.85" height="48.62" fill="#668dfa"/><rect x="178.68" y="1905.78" width="11.69" height="48.62" fill="#527ffb"/><rect x="190.36" y="1905.78" width="11.69" height="48.62" fill="#c4d2fb"/><rect x="202.04" y="1905.78" width="5.85" height="48.62" fill="#90acfa"/><rect x="207.88" y="1905.78" width="5.85" height="48.62" fill="#dae2fc"/><rect x="213.72" y="1905.78" width="5.85" height="48.62" fill="#ffe6e6"/><rect x="225.4" y="1905.78" width="29.21" height="48.62" fill="#ffe6e6"/><rect x="254.6" y="1905.78" width="5.85" height="48.62" fill="#ffbaba"/><rect x="260.44" y="1905.78" width="5.85" height="48.62" fill="#ffe6e6"/><rect x="266.28" y="1905.78" width="5.85" height="48.62" fill="#dae2fc"/><rect x="272.12" y="1905.78" width="5.85" height="48.62" fill="#eceffd"/><rect x="277.96" y="1905.78" width="11.69" height="48.62" fill="#c4d2fb"/><rect x="289.64" y="1905.78" width="5.85" height="48.62" fill="#eceffd"/><rect x="313" y="1905.78" width="5.85" height="48.62" fill="#eceffd"/><rect x="318.84" y="1905.78" width="5.85" height="48.62" fill="#dae2fc"/><rect x="324.68" y="1905.78" width="5.85" height="48.62" fill="#ffe6e6"/><rect x="359.72" y="1905.78" width="5.85" height="48.62" fill="#eceffd"/><rect x="365.56" y="1905.78" width="5.85" height="48.62" fill="#ffe6e6"/><rect x="377.24" y="1905.78" width="5.85" height="48.62" fill="#eceffd"/><rect x="388.92" y="1905.78" width="17.53" height="48.62" fill="#eceffd"/><rect x="418.12" y="1905.78" width="17.53" height="48.62" fill="#ffe6e6"/><rect x="441.48" y="1905.78" width="11.69" height="48.62" fill="#ffe6e6"/><rect x="453.16" y="1905.78" width="5.85" height="48.62" fill="#ffa0a0"/><rect x="459" y="1905.78" width="5.85" height="48.62" fill="#ffcfcf"/><rect x="488.2" y="1905.78" width="17.53" height="48.62" fill="#ffe6e6"/><rect x="511.56" y="1905.78" width="17.53" height="48.62" fill="#eceffd"/><rect x="552.44" y="1905.78" width="5.85" height="48.62" fill="#ffe6e6"/><rect x="569.96" y="1905.78" width="17.53" height="48.62" fill="#dae2fc"/><rect x="587.48" y="1905.78" width="11.69" height="48.62" fill="#eceffd"/><rect x="610.84" y="1905.78" width="11.69" height="48.62" fill="#ffe6e6"/><rect x="645.88" y="1905.78" width="5.85" height="48.62" fill="#eceffd"/><rect x="663.4" y="1905.78" width="5.85" height="48.62" fill="#dae2fc"/><rect x="669.24" y="1905.78" width="17.53" height="48.62" fill="#eceffd"/><rect x="686.76" y="1905.78" width="5.85" height="48.62" fill="#c4d2fb"/><rect x="704.28" y="1905.78" width="5.85" height="48.62" fill="#eceffd"/><rect x="710.12" y="1905.78" width="5.85" height="48.62" fill="#dae2fc"/><rect x="721.8" y="1905.78" width="5.85" height="48.62" fill="#eceffd"/><rect x="727.64" y="1905.78" width="11.69" height="48.62" fill="#ffe6e6"/><rect x="739.32" y="1905.78" width="5.85" height="48.62" fill="#eceffd"/><rect x="745.16" y="1905.78" width="5.85" height="48.62" fill="#dae2fc"/><rect x="756.84" y="1905.78" width="11.69" height="48.62" fill="#ffe6e6"/><rect x="774.36" y="1905.78" width="5.85" height="48.62" fill="#ffe6e6"/><rect x="780.2" y="1905.78" width="5.85" height="48.62" fill="#ffcfcf"/><rect x="786.04" y="1905.78" width="5.85" height="48.62" fill="#ffe6e6"/><rect x="791.88" y="1905.78" width="5.85" height="48.62" fill="#eceffd"/><rect x="797.72" y="1905.78" width="5.85" height="48.62" fill="#ffe6e6"/><rect x="815.24" y="1905.78" width="5.85" height="48.62" fill="#eceffd"/><rect x="838.6" y="1905.78" width="11.69" height="48.62" fill="#ffcfcf"/><rect x="856.12" y="1905.78" width="5.85" height="48.62" fill="#eceffd"/><rect x="879.48" y="1905.78" width="5.85" height="48.62" fill="#ffcfcf"/><rect x="891.16" y="1905.78" width="11.69" height="48.62" fill="#ff8888"/><rect x="902.84" y="1905.78" width="5.85" height="48.62" fill="#ff6f6f"/><rect x="920.36" y="1905.78" width="5.85" height="48.62" fill="#ffe6e6"/><rect x="926.2" y="1905.78" width="5.85" height="48.62" fill="#eceffd"/><rect x="932.04" y="1905.78" width="5.85" height="48.62" fill="#ffbaba"/><rect x="937.88" y="1905.78" width="5.85" height="48.62" fill="#ffe6e6"/><rect x="943.72" y="1905.78" width="5.85" height="48.62" fill="#dae2fc"/><rect x="949.56" y="1905.78" width="5.85" height="48.62" fill="#ffe6e6"/><rect x="955.4" y="1905.78" width="5.85" height="48.62" fill="#eceffd"/><rect x="961.24" y="1905.78" width="5.85" height="48.62" fill="#ffe6e6"/><rect x="167" y="1954.4" width="11.69" height="48.62" fill="#3566fd"/><rect x="178.68" y="1954.4" width="5.85" height="48.62" fill="#668dfa"/><rect x="184.52" y="1954.4" width="5.85" height="48.62" fill="#527ffb"/><rect x="190.36" y="1954.4" width="5.85" height="48.62" fill="#a9bffb"/><rect x="196.2" y="1954.4" width="5.85" height="48.62" fill="#c4d2fb"/><rect x="202.04" y="1954.4" width="5.85" height="48.62" fill="#eceffd"/><rect x="207.88" y="1954.4" width="5.85" height="48.62" fill="#dae2fc"/><rect x="213.72" y="1954.4" width="5.85" height="48.62" fill="#ffcfcf"/><rect x="225.4" y="1954.4" width="23.37" height="48.62" fill="#ffcfcf"/><rect x="248.76" y="1954.4" width="5.85" height="48.62" fill="#eceffd"/><rect x="254.6" y="1954.4" width="5.85" height="48.62" fill="#ffe6e6"/><rect x="260.44" y="1954.4" width="5.85" height="48.62" fill="#ffcfcf"/><rect x="272.12" y="1954.4" width="5.85" height="48.62" fill="#90acfa"/><rect x="277.96" y="1954.4" width="5.85" height="48.62" fill="#dae2fc"/><rect x="283.8" y="1954.4" width="5.85" height="48.62" fill="#eceffd"/><rect x="289.64" y="1954.4" width="5.85" height="48.62" fill="#c4d2fb"/><rect x="295.48" y="1954.4" width="23.37" height="48.62" fill="#dae2fc"/><rect x="318.84" y="1954.4" width="5.85" height="48.62" fill="#c4d2fb"/><rect x="324.68" y="1954.4" width="5.85" height="48.62" fill="#eceffd"/><rect x="336.36" y="1954.4" width="23.37" height="48.62" fill="#eceffd"/><rect x="371.4" y="1954.4" width="5.85" height="48.62" fill="#eceffd"/><rect x="377.24" y="1954.4" width="11.69" height="48.62" fill="#dae2fc"/><rect x="441.48" y="1954.4" width="11.69" height="48.62" fill="#ffcfcf"/><rect x="453.16" y="1954.4" width="5.85" height="48.62" fill="#eceffd"/><rect x="459" y="1954.4" width="5.85" height="48.62" fill="#ffcfcf"/><rect x="464.84" y="1954.4" width="5.85" height="48.62" fill="#ffbaba"/><rect x="470.68" y="1954.4" width="5.85" height="48.62" fill="#ffe6e6"/><rect x="476.52" y="1954.4" width="17.53" height="48.62" fill="#ffcfcf"/><rect x="494.04" y="1954.4" width="11.69" height="48.62" fill="#ffe6e6"/><rect x="534.92" y="1954.4" width="23.37" height="48.62" fill="#ffe6e6"/><rect x="581.64" y="1954.4" width="5.85" height="48.62" fill="#dae2fc"/><rect x="587.48" y="1954.4" width="5.85" height="48.62" fill="#eceffd"/><rect x="628.36" y="1954.4" width="11.69" height="48.62" fill="#ffe6e6"/><rect x="640.04" y="1954.4" width="5.85" height="48.62" fill="#dae2fc"/><rect x="645.88" y="1954.4" width="5.85" height="48.62" fill="#eceffd"/><rect x="651.72" y="1954.4" width="5.85" height="48.62" fill="#dae2fc"/><rect x="657.56" y="1954.4" width="29.21" height="48.62" fill="#eceffd"/><rect x="686.76" y="1954.4" width="5.85" height="48.62" fill="#dae2fc"/><rect x="692.6" y="1954.4" width="5.85" height="48.62" fill="#ffe6e6"/><rect x="698.44" y="1954.4" width="11.69" height="48.62" fill="#ffcfcf"/><rect x="710.12" y="1954.4" width="5.85" height="48.62" fill="#eceffd"/><rect x="721.8" y="1954.4" width="11.69" height="48.62" fill="#eceffd"/><rect x="739.32" y="1954.4" width="5.85" height="48.62" fill="#dae2fc"/><rect x="745.16" y="1954.4" width="5.85" height="48.62" fill="#eceffd"/><rect x="751" y="1954.4" width="5.85" height="48.62" fill="#dae2fc"/><rect x="756.84" y="1954.4" width="11.69" height="48.62" fill="#eceffd"/><rect x="768.52" y="1954.4" width="17.53" height="48.62" fill="#ffcfcf"/><rect x="786.04" y="1954.4" width="5.85" height="48.62" fill="#ffa0a0"/><rect x="797.72" y="1954.4" width="5.85" height="48.62" fill="#ffe6e6"/><rect x="815.24" y="1954.4" width="5.85" height="48.62" fill="#ffe6e6"/><rect x="821.08" y="1954.4" width="11.69" height="48.62" fill="#dae2fc"/><rect x="844.44" y="1954.4" width="5.85" height="48.62" fill="#ffe6e6"/><rect x="850.28" y="1954.4" width="5.85" height="48.62" fill="#ffa0a0"/><rect x="861.96" y="1954.4" width="5.85" height="48.62" fill="#ffbaba"/><rect x="867.8" y="1954.4" width="5.85" height="48.62" fill="#c4d2fb"/><rect x="873.64" y="1954.4" width="5.85" height="48.62" fill="#ffcfcf"/><rect x="885.32" y="1954.4" width="5.85" height="48.62" fill="#eceffd"/><rect x="891.16" y="1954.4" width="11.69" height="48.62" fill="#ff8888"/><rect x="902.84" y="1954.4" width="5.85" height="48.62" fill="#ff5656"/><rect x="920.36" y="1954.4" width="5.85" height="48.62" fill="#ffe6e6"/><rect x="926.2" y="1954.4" width="5.85" height="48.62" fill="#eceffd"/><rect x="932.04" y="1954.4" width="5.85" height="48.62" fill="#ffa0a0"/><rect x="943.72" y="1954.4" width="11.69" height="48.62" fill="#ff6f6f"/><rect x="955.4" y="1954.4" width="5.85" height="48.62" fill="#ffa0a0"/><rect x="961.24" y="1954.4" width="5.85" height="48.62" fill="#ff6f6f"/>
</g>
<rect x="451.6" y="1711.3" width="1.4" height="291.72" fill="#ffffff"/>
<defs><linearGradient id="cb" x1="0" x2="1" y1="0" y2="0"><stop offset="0" stop-color="#3566fb"/><stop offset="0.25" stop-color="#93aef7"/><stop offset="0.5" stop-color="#ffffff"/><stop offset="0.75" stop-color="#ff9a9a"/><stop offset="1" stop-color="#ff0a0a"/></linearGradient></defs>
<rect x="308.2" y="1296" width="183.5" height="18.5" fill="url(#cb)"/>
<text transform="translate(273.76 1348.3) scale(1.0364 1)" font-size="27">-4</text>
<text transform="translate(343.36 1348.5) scale(1.0633 1)" font-size="27">Log</text>
<text transform="translate(391.16 1357.9) scale(1.0526 1)" font-size="16.6">2</text>
<text transform="translate(400.62 1348.5) scale(1.0366 1)" font-size="27">FC</text>
<text transform="translate(488.89 1348.3) scale(1.0070 1)" font-size="27">+4</text>
<path d="M184.52 1339.1V1265.8H781.16V1368.9M169.92 1474.5V1339.1H199.13V1357.7M175.76 1474.5V1357.7H222.49V1385.4M184.52 1406.4V1385.4H260.46V1414.7M181.6 1474.5V1406.4H187.44V1474.5M224.4 1423.4V1414.7H296.53V1418.9M204.23 1424.7V1423.4H244.56V1429.9M197.66 1435.8V1424.7H210.8V1474.5M193.28 1474.5V1435.8H202.04V1446.5M199.12 1474.5V1446.5H204.96V1474.5M230.15 1444.4V1429.9H258.98V1444.4M219.56 1450.3V1444.4H240.73V1456.9M216.64 1474.5V1450.3H222.48V1474.5M235.62 1458.6V1456.9H245.84V1474.5M231.24 1469.5V1458.6H240V1474.5M228.32 1474.5V1469.5H234.16V1474.5M254.6 1454.8V1444.4H263.36V1474.5M251.68 1474.5V1454.8H257.52V1474.5M269.2 1474.5V1418.9H323.86V1431.7M275.04 1474.5V1431.7H372.68V1442.3M315.1 1446.5V1442.3H430.26V1452.8M280.88 1474.5V1446.5H349.32V1453.4M324.31 1453.49V1453.4H374.32V1474.5M299.04 1453.84V1453.49H349.59V1455.94M286.72 1474.5V1453.84H311.36V1457.09M300.95 1457.18V1457.09H321.76V1474.5M292.56 1474.5V1457.18H309.35V1460.56M302.78 1467.52V1460.56H315.92V1474.5M298.4 1474.5V1467.52H307.16V1468.5M304.24 1474.5V1468.5H310.08V1474.5M333.62 1461.25V1455.94H365.56V1459.39M327.6 1474.5V1461.25H339.64V1461.88M333.44 1474.5V1461.88H345.85V1466.3M339.28 1474.5V1466.3H352.42V1466.96M348.04 1467.87V1466.96H356.8V1474.5M345.12 1474.5V1467.87H350.96V1474.5M362.64 1474.5V1459.39H368.48V1474.5M413.19 1461V1452.8H447.32V1462.2M394.39 1463.5V1461H431.99V1464.5M383.08 1465.52V1463.5H405.71V1465.14M380.16 1474.5V1465.52H386V1474.5M399.14 1466.85V1465.14H412.28V1468.26M394.76 1468.5V1466.85H403.52V1474.5M391.84 1474.5V1468.5H397.68V1474.5M409.36 1474.5V1468.26H415.2V1474.5M425.42 1468.5V1464.5H438.56V1474.5M421.04 1474.5V1468.5H429.8V1468.5M426.88 1474.5V1468.5H432.72V1474.5M444.4 1474.5V1462.2H450.24V1474.5M627.08 1391.6V1368.9H935.23V1387.1M456.08 1474.5V1391.6H798.09V1410.6M694.79 1422.9V1410.6H901.38V1433.7M561.77 1440V1422.9H827.82V1425M497.23 1455V1440H626.31V1444.5M479.62 1458V1455H514.85V1457M468.12 1458.81V1458H491.12V1474.5M461.92 1474.5V1458.81H474.33V1463.01M467.76 1474.5V1463.01H480.9V1464.19M476.52 1466.67V1464.19H485.28V1474.5M473.6 1474.5V1466.67H479.44V1474.5M499.88 1468.5V1457H529.81V1461.33M496.96 1474.5V1468.5H502.8V1474.5M515.21 1463.54V1461.33H544.41V1461.72M508.64 1474.5V1463.54H521.78V1465.03M517.4 1468.5V1465.03H526.16V1474.5M514.48 1474.5V1468.5H520.32V1474.5M536.38 1462.75V1461.72H552.44V1465.1M532 1474.5V1462.75H540.76V1467.17M537.84 1474.5V1467.17H543.68V1474.5M549.52 1474.5V1465.1H555.36V1474.5M577.81 1451.5V1444.5H674.81V1452.8M564.12 1463.66V1451.5H591.49V1454.06M561.2 1474.5V1463.66H567.04V1474.5M580.18 1457.32V1454.06H602.81V1459.99M575.8 1460.03V1457.32H584.56V1474.5M572.88 1474.5V1460.03H578.72V1474.5M594.78 1463.79V1459.99H610.84V1463.4M590.4 1474.5V1463.79H599.16V1465.17M596.24 1474.5V1465.17H602.08V1474.5M607.92 1474.5V1463.4H613.76V1474.5M659.93 1455.5V1452.8H689.68V1474.5M640.4 1457.5V1455.5H679.46V1461M628.36 1461.69V1457.5H652.45V1460.31M622.52 1466.21V1461.69H634.2V1464.21M619.6 1474.5V1466.21H625.44V1474.5M631.28 1474.5V1464.21H637.12V1474.5M645.88 1465.28V1460.31H659.02V1462.19M642.96 1474.5V1465.28H648.8V1474.5M654.64 1474.5V1462.19H663.4V1463.53M660.48 1474.5V1463.53H666.32V1474.5M675.08 1461.82V1461H683.84V1474.5M672.16 1474.5V1461.82H678V1474.5M774.7 1431.3V1425H880.94V1463M699.9 1437.49V1431.3H849.5V1431.8M695.52 1474.5V1437.49H704.28V1452.37M701.36 1474.5V1452.37H707.2V1474.5M828.28 1433.24V1431.8H870.72V1474.5M798.97 1435.78V1433.24H857.58V1445.66M760.08 1436.61V1435.78H837.87V1437.3M726.45 1438.69V1436.61H793.7V1441M715.96 1450.8V1438.69H736.95V1442.9M713.04 1474.5V1450.8H718.88V1474.5M727.64 1456.41V1442.9H746.25V1448.3M724.72 1474.5V1456.41H730.56V1474.5M736.4 1474.5V1448.3H756.11V1448.42M749.54 1451.65V1448.42H762.68V1462.35M745.16 1457.8V1451.65H753.92V1474.5M742.24 1474.5V1457.8H748.08V1474.5M759.76 1474.5V1462.35H765.6V1474.5M780.2 1446.89V1441H807.21V1452.33M774.36 1454.33V1446.89H786.04V1453.57M771.44 1474.5V1454.33H777.28V1474.5M783.12 1474.5V1453.57H788.96V1474.5M799.18 1452.93V1452.33H815.24V1459.41M794.8 1474.5V1452.93H803.56V1457.59M800.64 1474.5V1457.59H806.48V1474.5M812.32 1474.5V1459.41H818.16V1474.5M831.3 1451.85V1437.3H844.44V1445.22M826.92 1460.12V1451.85H835.68V1474.5M824 1474.5V1460.12H829.84V1474.5M841.52 1474.5V1445.22H847.36V1474.5M853.2 1474.5V1445.66H861.96V1445.78M859.04 1474.5V1445.78H864.88V1474.5M876.56 1474.5V1463H885.32V1465.22M882.4 1474.5V1465.22H888.24V1474.5M897 1442V1433.7H905.76V1474.5M894.08 1474.5V1442H899.92V1474.5M918.17 1429.5V1387.1H952.3V1411M911.6 1474.5V1429.5H924.74V1446.3M920.36 1456.7V1446.3H929.12V1474.5M917.44 1474.5V1456.7H923.28V1474.5M940.43 1416.7V1411H964.16V1474.5M934.96 1474.5V1416.7H945.91V1435.5M940.8 1474.5V1435.5H951.02V1445M946.64 1474.5V1445H955.4V1456M952.48 1474.5V1456H958.32V1474.5" stroke="#0e0c6c" stroke-width="2.1" fill="none" stroke-linejoin="miter" stroke-linecap="butt"/>
<rect x="166.5" y="1634.8" width="974.5" height="32.2" fill="#c9d5f9"/>
<rect x="166.5" y="1670.2" width="800.6" height="36.1" fill="#eef0f7"/>
<rect x="166.5" y="2008.4" width="976.2" height="33.2" fill="#fdc9c9"/>
<path d="M452.9 1670.2V1706.3" stroke="#0e0c6c" stroke-width="1.6"/>
<text transform="translate(222.63 1699.1) scale(1.0513 1)" font-size="27">Cluster I: UP</text>
<text transform="translate(610.33 1699.2) scale(1.0503 1)" font-size="27">Cluster II: DOWN</text>
<text transform="translate(990.19 1659.9) scale(1.0132 1)" font-size="24.5">SnRK1 motif</text>
<text transform="translate(1006.28 2032.7) scale(1.0385 1)" font-size="24.7">TOR dep.</text>
<g font-size="12" text-anchor="middle" fill="#3a3a58"><text x="485.28" y="1658">*</text><text x="532" y="1658">*</text><text x="537.84" y="1658">*</text><text x="549.52" y="1658">*</text><text x="555.36" y="1658">*</text><text x="567.04" y="1658">*</text><text x="596.24" y="1658">*</text><text x="602.08" y="1658">*</text><text x="607.92" y="1658">*</text><text x="613.76" y="1658">*</text><text x="619.6" y="1658">*</text><text x="625.44" y="1658">*</text><text x="648.8" y="1658">*</text><text x="660.48" y="1658">*</text><text x="666.32" y="1658">*</text><text x="672.16" y="1658">*</text><text x="683.84" y="1658">*</text><text x="689.68" y="1658">*</text><text x="701.36" y="1658">*</text><text x="707.2" y="1658">*</text><text x="713.04" y="1658">*</text><text x="718.88" y="1658">*</text><text x="724.72" y="1658">*</text><text x="742.24" y="1658">*</text><text x="748.08" y="1658">*</text><text x="759.76" y="1658">*</text><text x="765.6" y="1658">*</text><text x="783.12" y="1658">*</text><text x="788.96" y="1658">*</text><text x="794.8" y="1658">*</text><text x="800.64" y="1658">*</text><text x="806.48" y="1658">*</text><text x="812.32" y="1658">*</text><text x="824" y="1658">*</text><text x="829.84" y="1658">*</text><text x="841.52" y="1658">*</text><text x="864.88" y="1658">*</text><text x="870.72" y="1658">*</text><text x="894.08" y="1658">*</text><text x="899.92" y="1658">*</text><text x="911.6" y="1658">*</text><text x="917.44" y="1658">*</text><text x="923.28" y="1658">*</text><text x="940.8" y="1658">*</text></g>
<g font-size="12" text-anchor="middle" fill="#5a3434"><text x="169.92" y="2031">*</text><text x="175.76" y="2031">*</text><text x="181.6" y="2031">*</text><text x="187.44" y="2031">*</text><text x="193.28" y="2031">*</text><text x="275.04" y="2031">*</text><text x="280.88" y="2031">*</text><text x="315.92" y="2031">*</text><text x="380.16" y="2031">*</text><text x="648.8" y="2031">*</text><text x="660.48" y="2031">*</text><text x="678" y="2031">*</text><text x="683.84" y="2031">*</text><text x="689.68" y="2031">*</text><text x="829.84" y="2031">*</text><text x="946.64" y="2031">*</text><text x="952.48" y="2031">*</text><text x="958.32" y="2031">*</text><text x="964.16" y="2031">*</text></g>
<text transform="translate(159.1 1603) rotate(-90) scale(1.0010 1)" font-size="28.4">sucrose</text>
<text transform="translate(159 1886.6) rotate(-90) scale(0.9949 1)" font-size="28.8">TOR</text>
<path d="M966.7 1501.3H1038.4V1553.8H966.7M1038.4 1525.8H1058.5M966.7 1606.6H1058.5M1061 1567H1200.8V1882.9H1043.7M966.7 1734.6H1006V1783.3H966.7M1006 1758H1035V1855.6H1017.3M966.7 1832.6H1017.3V1881.3H966.7M1035 1806.9H1043.7M966.7 1930H1019.2V1978.8H966.7M1019.2 1953.6H1043.7" stroke="#0e0c6c" stroke-width="2" fill="none"/>
<path d="M1043.7 1806.9V1953.6" stroke="#9a9ac0" stroke-width="1.2" fill="none"/>
<text transform="translate(1226.59 1516.7) scale(1.0355 1)" font-size="27.3">t10/t0(Ctrl)</text>
<text transform="translate(1226.59 1566.7) scale(1.0355 1)" font-size="27.3">t20/t0(Ctrl)</text>
<text transform="translate(1226.59 1617) scale(1.0355 1)" font-size="27.3">t40/t0(Ctrl)</text>
<text transform="translate(1226.59 1746.4) scale(1.0372 1)" font-size="27.3">t10(rapa/Ctrl)</text>
<text transform="translate(1226.59 1791) scale(1.0372 1)" font-size="27.3">t10(AZD/Ctrl)</text>
<text transform="translate(1226.59 1838.8) scale(1.0372 1)" font-size="27.3">t20(rapa/Ctrl)</text>
<text transform="translate(1226.59 1887.2) scale(1.0372 1)" font-size="27.3">t20(AZD/Ctrl)</text>
<text transform="translate(1226.59 1935.6) scale(1.0372 1)" font-size="27.3">t40(rapa/Ctrl)</text>
<text transform="translate(1226.59 1989.6) scale(1.0372 1)" font-size="27.3">t40(AZD/Ctrl)</text><text transform="translate(241.82 2127.4) scale(0.9835 1)" font-size="27.5">% of sites with phosphorylated residue conserved</text>
<path d="M470.7 2181V2661M612 2181V2661M753.3 2181V2661M894.6 2181V2661" stroke="#e2e2e2" stroke-width="1.3" fill="none"/>
<path d="M329.4 2181V2661H894.6" stroke="#d8d8d8" stroke-width="1.3" fill="none"/>
<text transform="translate(98.5 2219.2) scale(1.0846 1)" font-size="24.5" font-style="italic">Arabidopsis lyrata</text>
<text transform="translate(144.44 2265.5) scale(1.0742 1)" font-size="24.5" font-style="italic">Brassica rapa</text>
<text transform="translate(85.73 2312.8) scale(1.0856 1)" font-size="24.5" font-style="italic">Eucalyptus grandis</text>
<text transform="translate(159.01 2360.2) scale(1.0745 1)" font-size="24.5" font-style="italic">Glycine max</text>
<text transform="translate(77.14 2407.2) scale(1.0791 1)" font-size="24.5" font-style="italic">Populus trichocarpa</text>
<text transform="translate(162.32 2454.2) scale(1.0870 1)" font-size="24.5" font-style="italic">Vitis vinifera</text>
<text transform="translate(46.24 2501.3) scale(1.0834 1)" font-size="24.5" font-style="italic">Solanum lycopersicum</text>
<text transform="translate(-1.41 2547.8) scale(1.0847 1)" font-size="24.5" font-style="italic">Oryza sativa ssp. Japonica</text>
<text transform="translate(62.19 2594.9) scale(1.0785 1)" font-size="24.5" font-style="italic">Amborella trichopoda</text>
<text transform="translate(52.13 2641.9) scale(1.0869 1)" font-size="24.5" font-style="italic">Physcomitrella patens</text>
<rect x="329.4" y="2190.6" width="516.59" height="9.75" fill="#d9d9db"/><rect x="329.4" y="2200.35" width="517.72" height="9.75" fill="#f04244"/><rect x="329.4" y="2210.1" width="525.64" height="9.75" fill="#5599f3"/><rect x="329.4" y="2238.62" width="484.94" height="9.75" fill="#d9d9db"/><rect x="329.4" y="2248.37" width="422.77" height="9.75" fill="#f04244"/><rect x="329.4" y="2258.12" width="512.64" height="9.75" fill="#5599f3"/><rect x="329.4" y="2286.64" width="356.64" height="9.75" fill="#d9d9db"/><rect x="329.4" y="2296.39" width="341.38" height="9.75" fill="#f04244"/><rect x="329.4" y="2306.14" width="427.86" height="9.75" fill="#5599f3"/><rect x="329.4" y="2334.66" width="335.16" height="9.75" fill="#d9d9db"/><rect x="329.4" y="2344.41" width="352.68" height="9.75" fill="#f04244"/><rect x="329.4" y="2354.16" width="422.2" height="9.75" fill="#5599f3"/><rect x="329.4" y="2382.68" width="351.55" height="9.75" fill="#d9d9db"/><rect x="329.4" y="2392.43" width="364.55" height="9.75" fill="#f04244"/><rect x="329.4" y="2402.18" width="454.42" height="9.75" fill="#5599f3"/><rect x="329.4" y="2430.7" width="292.77" height="9.75" fill="#d9d9db"/><rect x="329.4" y="2440.45" width="270.17" height="9.75" fill="#f04244"/><rect x="329.4" y="2450.2" width="389.42" height="9.75" fill="#5599f3"/><rect x="329.4" y="2478.72" width="319.34" height="9.75" fill="#d9d9db"/><rect x="329.4" y="2488.47" width="328.95" height="9.75" fill="#f04244"/><rect x="329.4" y="2498.22" width="427.86" height="9.75" fill="#5599f3"/><rect x="329.4" y="2526.74" width="292.77" height="9.75" fill="#d9d9db"/><rect x="329.4" y="2536.49" width="246.99" height="9.75" fill="#f04244"/><rect x="329.4" y="2546.24" width="376.42" height="9.75" fill="#5599f3"/><rect x="329.4" y="2574.76" width="298.43" height="9.75" fill="#d9d9db"/><rect x="329.4" y="2584.51" width="235.12" height="9.75" fill="#f04244"/><rect x="329.4" y="2594.26" width="422.2" height="9.75" fill="#5599f3"/><rect x="329.4" y="2622.78" width="229.47" height="9.75" fill="#d9d9db"/><rect x="329.4" y="2632.53" width="200.08" height="9.75" fill="#f04244"/><rect x="329.4" y="2642.28" width="266.21" height="9.75" fill="#5599f3"/>
<text transform="translate(313.81 2692.5) scale(0.9914 1)" font-size="25.5">0%</text>
<text transform="translate(450.65 2692.5) scale(1.0348 1)" font-size="25.5">25%</text>
<text transform="translate(594.37 2692.5) scale(1.0285 1)" font-size="25.5">50%</text>
<text transform="translate(734.38 2692.5) scale(1.0123 1)" font-size="25.5">75%</text>
<text transform="translate(864.9 2692.5) scale(1.1058 1)" font-size="25.5">100%</text>
<text transform="translate(1093.35 2130.8) scale(0.9460 1)" font-size="28.5">% of sites with blosum score</text>
<text transform="translate(1432.82 2141.6) scale(0.9638 1)" font-size="18.5">sequence window</text>
<text transform="translate(1579.4 2130.5) scale(0.9468 1)" font-size="28.5">/ blosum score</text>
<text transform="translate(1754.53 2141.6) scale(0.9662 1)" font-size="18.5">global</text>
<text transform="translate(1808.17 2130.5) scale(1.0955 1)" font-size="28.5">&gt; 1</text>
<path d="M1291 2168V2344M1366.15 2168V2344M1441.3 2168V2344M1516.45 2168V2344M1591.6 2168V2344M1666.75 2168V2344" stroke="#e2e2e2" stroke-width="1.3" fill="none"/>
<rect x="1291" y="2188.2" width="191.4" height="19.7" fill="#d9d9db"/>
<rect x="1291" y="2246.7" width="187.6" height="20.1" fill="#f04244"/>
<rect x="1291" y="2305.1" width="280.7" height="20.6" fill="#5599f3"/>
<text transform="translate(1221.98 2200.8) scale(1.0406 1)" font-size="28">TOR</text>
<text transform="translate(1142.59 2259.5) scale(1.0081 1)" font-size="28.3">sucrose up</text>
<text transform="translate(1105.49 2319) scale(1.0122 1)" font-size="28.3">sucrose down</text>
<text transform="translate(1273.67 2373.4) scale(1.0297 1)" font-size="28">50%</text>
<text transform="translate(1348.06 2373.4) scale(1.0317 1)" font-size="28">60%</text>
<text transform="translate(1423.36 2373.4) scale(1.0317 1)" font-size="28">70%</text>
<text transform="translate(1498.66 2373.4) scale(1.0316 1)" font-size="28">80%</text>
<text transform="translate(1574.18 2373.4) scale(1.0168 1)" font-size="28">90%</text>
<text x="1647.3" y="2373.4" font-size="28">100%</text>
<rect x="932.1" y="2461" width="17.6" height="14.3" fill="#d9d9db"/>
<rect x="932.1" y="2500.6" width="17.6" height="14.7" fill="#f04244"/>
<rect x="932.1" y="2540.2" width="17.6" height="14.9" fill="#5599f3"/>
<text transform="translate(983.16 2476) scale(1.0618 1)" font-size="25.6">TOR</text>
<text transform="translate(982.55 2514.9) scale(1.0386 1)" font-size="25.6">Sucrose upregulated</text>
<text transform="translate(982.55 2555.1) scale(1.0398 1)" font-size="25.6">Sucrose downregulated</text>
</svg></body></html>
